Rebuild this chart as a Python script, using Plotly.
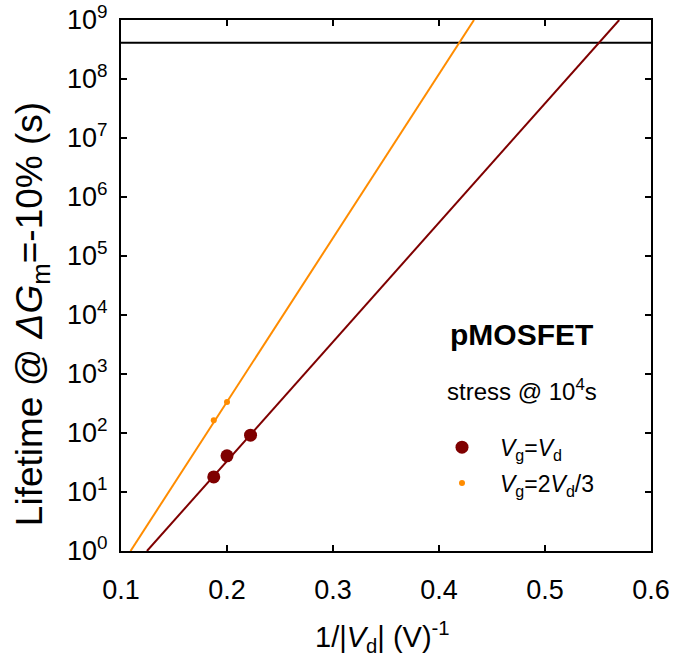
import plotly.graph_objects as go

# Measured points
x_vgvd = [0.1875, 0.2, 0.2222]
y_vgvd = [18, 41, 92]
x_vg23 = [0.1875, 0.2]
y_vg23 = [165, 335]

# Fit lines (endpoints)
fit_vgvd_x = [0.1245, 0.570]
fit_vgvd_y = [1, 1e9]
fit_vg23_x = [0.109, 0.433]
fit_vg23_y = [1, 1e9]

# Target lifetime line
target_x = [0.1, 0.6]
target_y = [4.1e8, 4.1e8]

x_ticks = [0.1, 0.2, 0.3, 0.4, 0.5, 0.6]
x_ticklabels = ["0.1", "0.2", "0.3", "0.4", "0.5", "0.6"]
y_ticks = [10**i for i in range(10)]
y_ticklabels = ["10<sup>%d</sup>" % i for i in range(10)]

DARK = "#7f0000"
ORANGE = "#ff8c00"
FONT = "Liberation Sans, Arial, sans-serif"

fig = go.Figure()
fig.add_trace(go.Scatter(x=target_x, y=target_y, mode="lines",
                         line=dict(color="black", width=2), showlegend=False))
fig.add_trace(go.Scatter(x=fit_vgvd_x, y=fit_vgvd_y, mode="lines",
                         line=dict(color=DARK, width=2), showlegend=False))
fig.add_trace(go.Scatter(x=fit_vg23_x, y=fit_vg23_y, mode="lines",
                         line=dict(color=ORANGE, width=2), showlegend=False))
fig.add_trace(go.Scatter(x=x_vgvd, y=y_vgvd, mode="markers",
                         marker=dict(color=DARK, size=13),
                         name="<i>V</i><sub>g</sub>=<i>V</i><sub>d</sub>",
                         legendgroup="a"))
fig.add_trace(go.Scatter(x=x_vg23, y=y_vg23, mode="markers",
                         marker=dict(color=ORANGE, size=6),
                         name="<i>V</i><sub>g</sub>=2<i>V</i><sub>d</sub>/3",
                         legendgroup="b"))

axis_common = dict(showline=True, linecolor="black", linewidth=2, mirror="ticks",
                   ticks="inside", ticklen=6, tickwidth=2, tickcolor="black",
                   showgrid=False, zeroline=False, automargin=False,
                   tickfont=dict(family=FONT, size=27, color="black"))

fig.update_xaxes(range=[0.1, 0.6], tickvals=x_ticks, ticktext=x_ticklabels,
                 ticklabelstandoff=14, **axis_common)
fig.update_yaxes(type="log", range=[0, 9], tickvals=y_ticks, ticktext=y_ticklabels,
                 ticklabelstandoff=6, **axis_common)

fig.add_annotation(x=-0.168, y=0.446, xref="paper", yref="paper",
                   xanchor="center", yanchor="middle",
                   text="Lifetime @ <i>ΔG</i><sub>m</sub>=-10% (s)", textangle=-90,
                   showarrow=False, font=dict(family=FONT, size=37, color="black"))
fig.add_annotation(x=0.494, y=-0.162, xref="paper", yref="paper",
                   xanchor="center", yanchor="middle",
                   text="1/|<i>V</i><sub>d</sub>| (V)<sup>-1</sup>",
                   showarrow=False, font=dict(family=FONT, size=29, color="black"))
fig.add_annotation(x=0.7566, y=0.4068, xref="paper", yref="paper",
                   xanchor="center", yanchor="middle", text="<b>pMOSFET</b>",
                   showarrow=False, font=dict(family=FONT, size=30, color="black"))
fig.add_annotation(x=0.7566, y=0.303, xref="paper", yref="paper",
                   xanchor="center", yanchor="middle", text="stress @ 10<sup>4</sup>s",
                   showarrow=False, font=dict(family=FONT, size=24, color="black"))

fig.update_layout(
    width=675, height=657,
    margin=dict(l=121, r=24, t=20, b=106, autoexpand=False),
    plot_bgcolor="white", paper_bgcolor="white",
    font=dict(family=FONT, size=23, color="black"),
    showlegend=True,
    legend=dict(x=0.5717, y=0.236, xanchor="left", yanchor="top", itemwidth=66,
                bgcolor="rgba(0,0,0,0)", tracegroupgap=3,
                font=dict(family=FONT, size=23, color="black")),
)

fig.write_html("out.html")
